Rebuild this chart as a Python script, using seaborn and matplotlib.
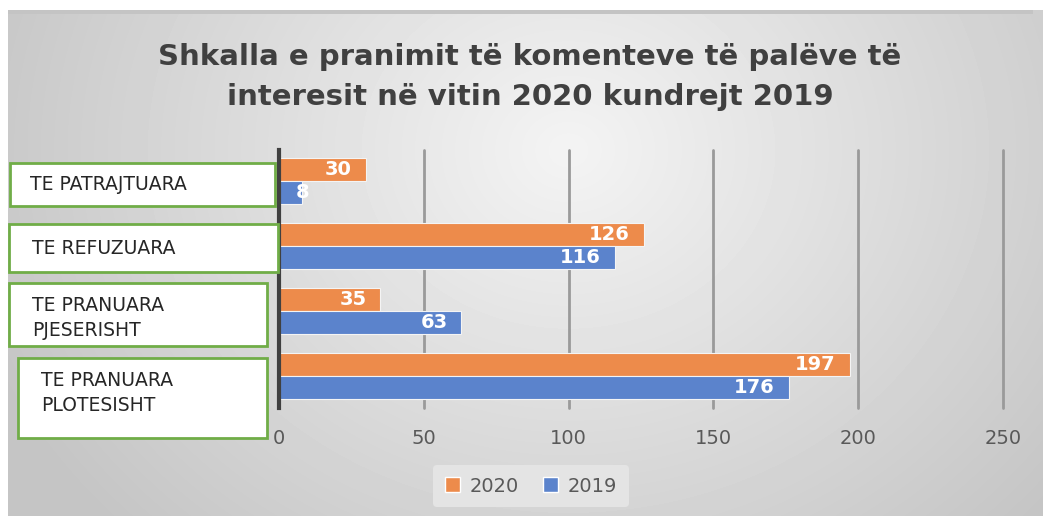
import numpy as np
import pandas as pd
import matplotlib
matplotlib.use('Agg')
import matplotlib.pyplot as plt
from matplotlib.patches import Rectangle
import seaborn as sns

# Data
categories = ['TE PATRAJTUARA', 'TE REFUZUARA', 'TE PRANUARA\nPJESERISHT', 'TE PRANUARA\nPLOTESISHT']
values_2020 = [30, 126, 35, 197]
values_2019 = [8, 116, 63, 176]
years = ['2020', '2019']
colors = ['#ED8B4B', '#5B83CC']
title = 'Shkalla e pranimit të komenteve të palëve të\ninteresit në vitin 2020 kundrejt 2019'

df = pd.DataFrame({
    'category': categories * 2,
    'value': values_2020 + values_2019,
    'year': [years[0]] * 4 + [years[1]] * 4,
})

W, H = 1043, 516
sns.set_style('white')
plt.rcParams['font.family'] = ['DejaVu Sans']
fig = plt.figure(figsize=(W / 100, H / 100), dpi=100)
fig.patch.set_facecolor('white')

# gradient background (px coords)
bg = fig.add_axes([8 / W, 0, 1 - 8 / W, 1 - 10 / H])
bg.set_axis_off()
yy, xx = np.mgrid[0:506, 0:1035]
dist = np.sqrt(((xx - 560) / 650.0) ** 2 + ((yy - 140) / 560.0) ** 2)
shade = np.clip(0.955 - 0.19 * dist, 0.77, 0.955)
bg.imshow(shade, cmap='gray', vmin=0, vmax=1, aspect='auto', interpolation='bilinear')
fig.add_artist(Rectangle((8 / W, 1 - 14 / H), 1025 / W, 4 / H, transform=fig.transFigure,
                         facecolor='#c4c4c4', edgecolor='none'))

ax = fig.add_axes([279 / W, 1 - 408 / H, 724 / W, 258 / H])
ax.patch.set_alpha(0)
sns.barplot(data=df, y='category', x='value', hue='year', palette=colors, orient='h',
            width=0.71, saturation=1, ax=ax, edgecolor='#f4f4f4', linewidth=0.8, legend=False)

ax.set_xlim(0, 250)
ax.set_ylim(3.49, -0.477)
ax.set_xticks(range(0, 251, 50))
ax.xaxis.grid(True, color='#9a9a9a', linewidth=2)
for gl in ax.get_xgridlines():
    gl.set_clip_on(False)
ax.set_axisbelow(True)
for s in ['top', 'right', 'bottom']:
    ax.spines[s].set_visible(False)
ax.spines['left'].set_color('#404040')
ax.spines['left'].set_linewidth(3)
ax.set_yticks([])
ax.set_xlabel('')
ax.set_ylabel('')
ax.tick_params(axis='x', length=0, pad=15, labelsize=14, labelcolor='#595959')

# data labels
for p in ax.patches:
    w = p.get_width()
    if w <= 0:
        continue
    yc = p.get_y() + p.get_height() / 2
    if w < 15:
        ax.annotate(f'{w:.0f}', (w, yc), ha='center', va='center', color='white',
                    fontsize=14, fontweight='bold')
    else:
        ax.annotate(f'{w:.0f}', (w, yc), xytext=(-10, 0), textcoords='offset points',
                    ha='right', va='center', color='white', fontsize=14, fontweight='bold')

# category boxes (px: left, top, right, bottom, text x)
boxes = [(10, 163, 275, 206, 30), (9, 224, 278, 272, 32),
         (9, 283, 267, 346, 32), (18, 358, 267, 438, 41)]
for label, (l, t, r, b, tx) in zip(categories, boxes):
    fig.add_artist(Rectangle((l / W, 1 - b / H), (r - l) / W, (b - t) / H,
                             transform=fig.transFigure, facecolor='white',
                             edgecolor='#70AD47', linewidth=2))
    ty = (t + b) / 2 if '\n' not in label else t + 35
    fig.text(tx / W, 1 - ty / H, label, ha='left', va='center', fontsize=13.5,
             color='#262626', linespacing=1.4)

fig.text(530 / W, 1 - 77 / H, title, ha='center', va='center', fontsize=21,
         fontweight='bold', color='#404040', linespacing=1.55)

handles = [Rectangle((0, 0), 1, 1, facecolor=c) for c in colors]
leg = fig.legend(handles, years, loc='center', bbox_to_anchor=(531 / W, 1 - 486 / H),
                 ncol=2, frameon=True, fontsize=14, handlelength=0.8, handleheight=0.8,
                 columnspacing=1.2, handletextpad=0.5, borderpad=0.6)
leg.get_frame().set_facecolor('#e4e4e4')
leg.get_frame().set_edgecolor('none')
leg.get_frame().set_alpha(1)
for t in leg.get_texts():
    t.set_color('#595959')

fig.savefig('out.png', dpi=100)
